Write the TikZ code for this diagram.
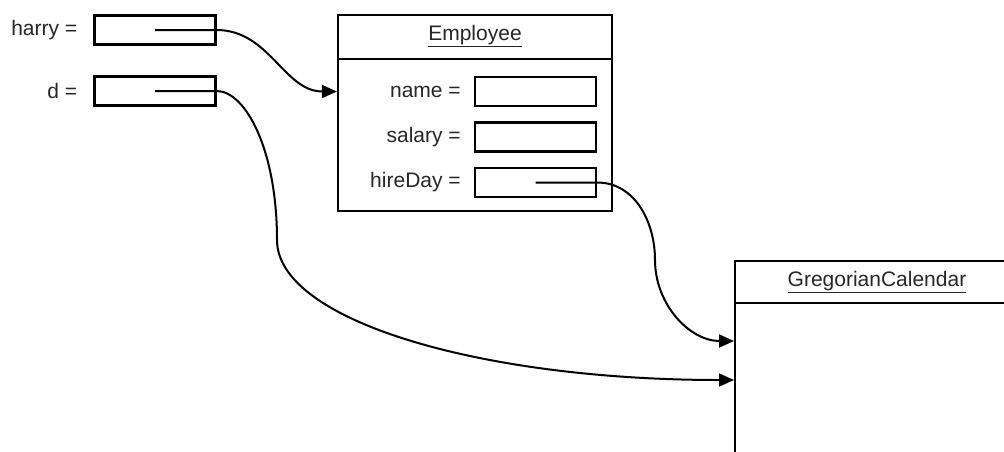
\documentclass[tikz,border=0pt]{standalone}
\usepackage{fontspec}
\setmainfont{Liberation Sans}
\usetikzlibrary{arrows.meta,positioning,calc}

\begin{document}
\begin{tikzpicture}[x=1pt, y=-1pt, every node/.style={font=\fontsize{21}{24}\selectfont, text=black!85},
    valbox/.style={draw, line width=2.2pt, minimum width=121pt, minimum height=29pt, inner sep=0pt},
    classbox/.style={draw, line width=2.2pt, inner sep=0pt},
    lbl/.style={inner sep=2pt},
    ref/.style={line width=2pt, -{Triangle[length=15pt,width=13pt]}}]
    \useasboundingbox (0,0) rectangle (1004,451);

    \node[valbox] (harryv) at (155,30) {};
    \node[valbox] (dv) at (155,91) {};
    \node[lbl, left=14pt of harryv] (harry) {harry =};
    \node[lbl, left=14pt of dv] (d) {d =};

    \node[classbox, minimum width=274pt, minimum height=196pt] (emp) at (475,113) {};
    \coordinate (emphd) at ($(emp.north)+(0,45)$);
    \draw[line width=2.2pt] (emp.west |- emphd) -- (emp.east |- emphd);
    \node (emptitle) at ($(emp.north)!0.5!(emphd)$) {\underline{Employee}};

    \foreach \fld/\txt [count=\k] in {namev/name, salaryv/salary, hirev/hireDay} {
      \node[valbox] (\fld) at (535.5, {46+45.5*\k}) {};
      \node[lbl, left=11pt of \fld] {\txt\ =};
    }

    \begin{scope}
      \clip (0,0) rectangle (1004,451);
      \node[classbox, anchor=north west, minimum width=300pt, minimum height=220pt] (greg) at (734,260) {};
    \end{scope}
    \coordinate (greghd) at ($(greg.north west)+(0,43)$);
    \draw[line width=2.2pt] (greghd) -- (greghd -| 1004,0);
    \node (gregtitle) at (877,282) {\underline{GregorianCalendar}};
    \coordinate (gin1) at ($(greg.north west)+(0,81)$);
    \coordinate (gin2) at ($(greg.north west)+(0,120)$);

    \coordinate (dbend) at (277,240);
    \coordinate (hbend) at (655,260);

    \draw[ref] (harryv.center) -- (harryv.east) to[out=0, in=180] (emp.west |- namev);
    \draw[ref] (dv.center) -- (dv.east) .. controls +(29,0) and +(0,-90) .. (dbend)
      .. controls +(0,80) and +(-255,0) .. (gin2);
    \draw[ref] (hirev.center) -- (hirev.east) to[out=0, in=90] (hbend) to[out=-90, in=180] (gin1);
\end{tikzpicture}
\end{document}
